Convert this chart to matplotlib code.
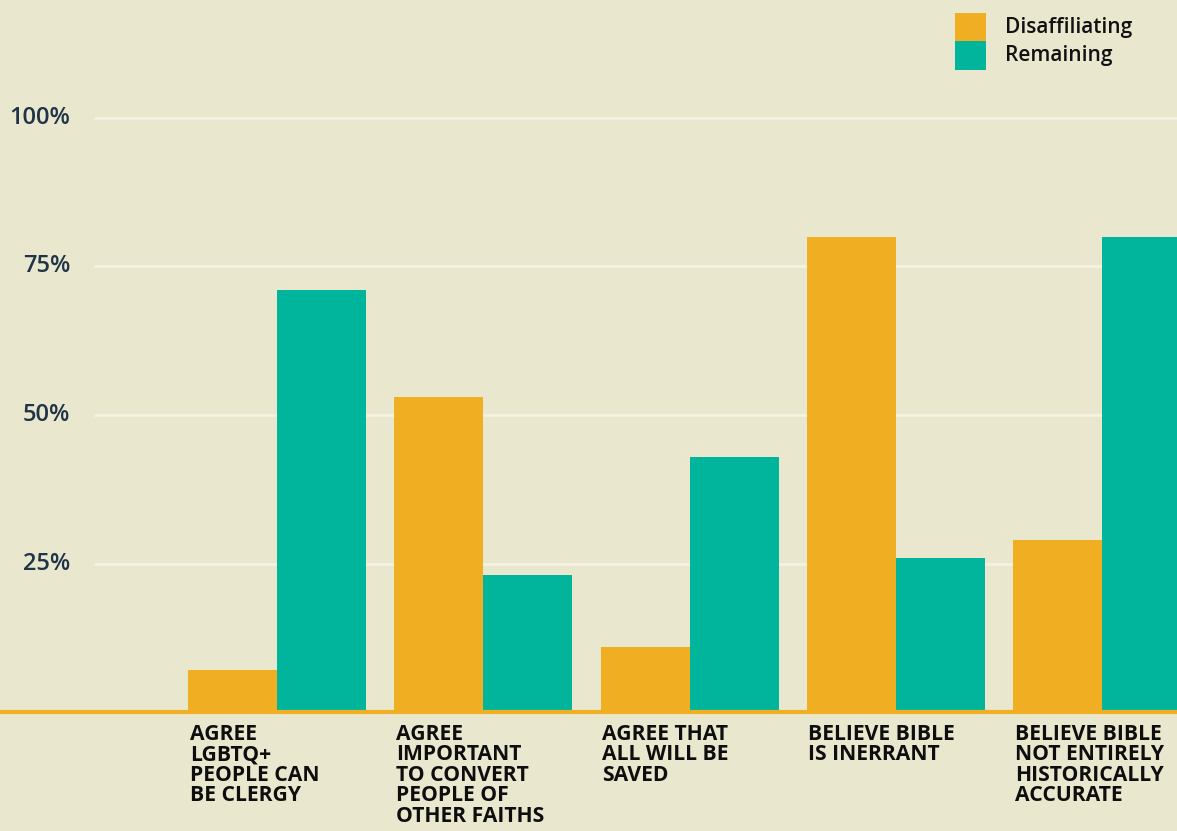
import matplotlib
matplotlib.use("Agg")
import matplotlib.pyplot as plt
from matplotlib.patches import Rectangle
import numpy as np

categories = [
    "AGREE\nLGBTQ+\nPEOPLE CAN\nBE CLERGY",
    "AGREE\nIMPORTANT\nTO CONVERT\nPEOPLE OF\nOTHER FAITHS",
    "AGREE THAT\nALL WILL BE\nSAVED",
    "BELIEVE BIBLE\nIS INERRANT",
    "BELIEVE BIBLE\nNOT ENTIRELY\nHISTORICALLY\nACCURATE",
]
disaffiliating = [7, 53, 11, 80, 29]
remaining = [71, 23, 43, 26, 80]
yticks = [25, 50, 75, 100]

BG = "#EAE7CF"
ORANGE = "#F0AF22"
TEAL = "#00B59C"
NAVY = "#1F3447"

plt.rcParams["font.family"] = ["Open Sans", "DejaVu Sans"]

W, H = 1177, 831
fig = plt.figure(figsize=(W / 100, H / 100), dpi=100)
fig.patch.set_facecolor(BG)

# axes spans the full width; baseline sits at y=712px
ax = fig.add_axes([0, (H - 712) / H, 1, 712 / H])
ax.set_facecolor(BG)
for s in ax.spines.values():
    s.set_visible(False)
ax.set_xticks([])
ax.set_yticks([])

spacing = 206.25
x0 = 277
width = 89 / spacing
ax.set_xlim(-x0 / spacing, (W - x0) / spacing)
ax.set_ylim(0, 712 / 5.94)

x = np.arange(len(categories))
for t in yticks:
    ax.axhline(t, xmin=95 / W, xmax=1, color="#F5F2E2", lw=2, zorder=1)
    ax.text(70 / W, t, f"{t}%", transform=ax.get_yaxis_transform(),
            ha="right", va="center", fontsize=17, fontweight="semibold", color=NAVY)

ax.bar(x - width / 2, disaffiliating, width, color=ORANGE, zorder=2)
ax.bar(x + width / 2, remaining, width, color=TEAL, zorder=2)
ax.axhline(0, color=ORANGE, lw=3, zorder=3, clip_on=False)

for i, lab in enumerate(categories):
    ax.text(x[i] - width + 0.008, -2.0, lab, ha="left", va="top",
            fontsize=15.2, fontweight="bold", color="#0E0E0E", linespacing=0.97,
            clip_on=False)

# legend squares and labels
for j, (name, col) in enumerate([("Disaffiliating", ORANGE), ("Remaining", TEAL)]):
    top = 13 + j * 28.5
    fig.add_artist(Rectangle((955 / W, 1 - (top + 28.5) / H), 31 / W, 28.5 / H,
                             transform=fig.transFigure, color=col, lw=0))
    fig.text(1005 / W, 1 - (top + 14) / H, name, ha="left", va="center",
             fontsize=15, fontweight="semibold", color="#111111")

fig.savefig("out.png", dpi=100, facecolor=BG)
